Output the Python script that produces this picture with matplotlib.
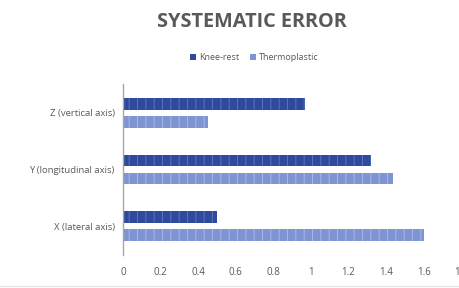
import matplotlib

matplotlib.use("Agg")

import matplotlib.pyplot as plt
import numpy as np
from matplotlib.patches import Patch

categories = ["X (lateral axis)", "Y (longitudinal axis)", "Z (vertical axis)"]
knee_rest = [0.50, 1.32, 0.97]
thermoplastic = [1.60, 1.44, 0.45]
x_ticks = [0, 0.2, 0.4, 0.6, 0.8, 1, 1.2, 1.4, 1.6, 1.8]

KNEE_COLOR = "#2f4a9c"
THERMO_COLOR = "#7f94d2"
TEXT_COLOR = "#595959"

plt.rcParams["font.family"] = ["Open Sans", "DejaVu Sans"]
plt.rcParams["hatch.linewidth"] = 0.7

fig = plt.figure(figsize=(4.6, 2.88), dpi=100)
ax = fig.add_axes([0.2674, 0.115, 0.735, 0.593])

y = np.arange(len(categories))
h = 0.21
off = 0.158
ax.barh(y + off, knee_rest, height=h, color=KNEE_COLOR, edgecolor="#5873bf",
        hatch="||", linewidth=0)
ax.barh(y - off, thermoplastic, height=h, color=THERMO_COLOR, edgecolor="#a9b9e4",
        hatch="||", linewidth=0)

ax.set_xlim(0, 1.8)
ax.set_ylim(-0.5, 2.5)
ax.set_yticks(y)
ax.set_yticklabels(categories, fontsize=6.8, color=TEXT_COLOR)
ax.set_xticks(x_ticks)
ax.set_xticklabels([f"{t:g}" for t in x_ticks], fontsize=7, color=TEXT_COLOR)
ax.tick_params(axis="both", length=0, pad=6)
ax.tick_params(axis="x", pad=9)
for name in ["top", "right", "bottom"]:
    ax.spines[name].set_visible(False)
ax.spines["left"].set_color("#a6a6a6")
ax.spines["left"].set_linewidth(1.0)

fig.text(0.548, 0.925, "SYSTEMATIC ERROR", ha="center", va="center",
         fontsize=14.3, fontweight="bold", color=TEXT_COLOR)

handles = [Patch(facecolor=KNEE_COLOR, label="Knee-rest"),
           Patch(facecolor=THERMO_COLOR, label="Thermoplastic")]
fig.legend(handles=handles, loc="center", bbox_to_anchor=(0.553, 0.80), ncol=2,
           frameon=False, fontsize=6.5, handlelength=0.7, handleheight=0.7,
           handletextpad=0.3, columnspacing=1.2, labelcolor=TEXT_COLOR)

fig.add_artist(plt.Line2D([0.0, 1.0], [0.006, 0.006], color="#e6e6e6", lw=1.0))

fig.savefig("out.png", dpi=100)
